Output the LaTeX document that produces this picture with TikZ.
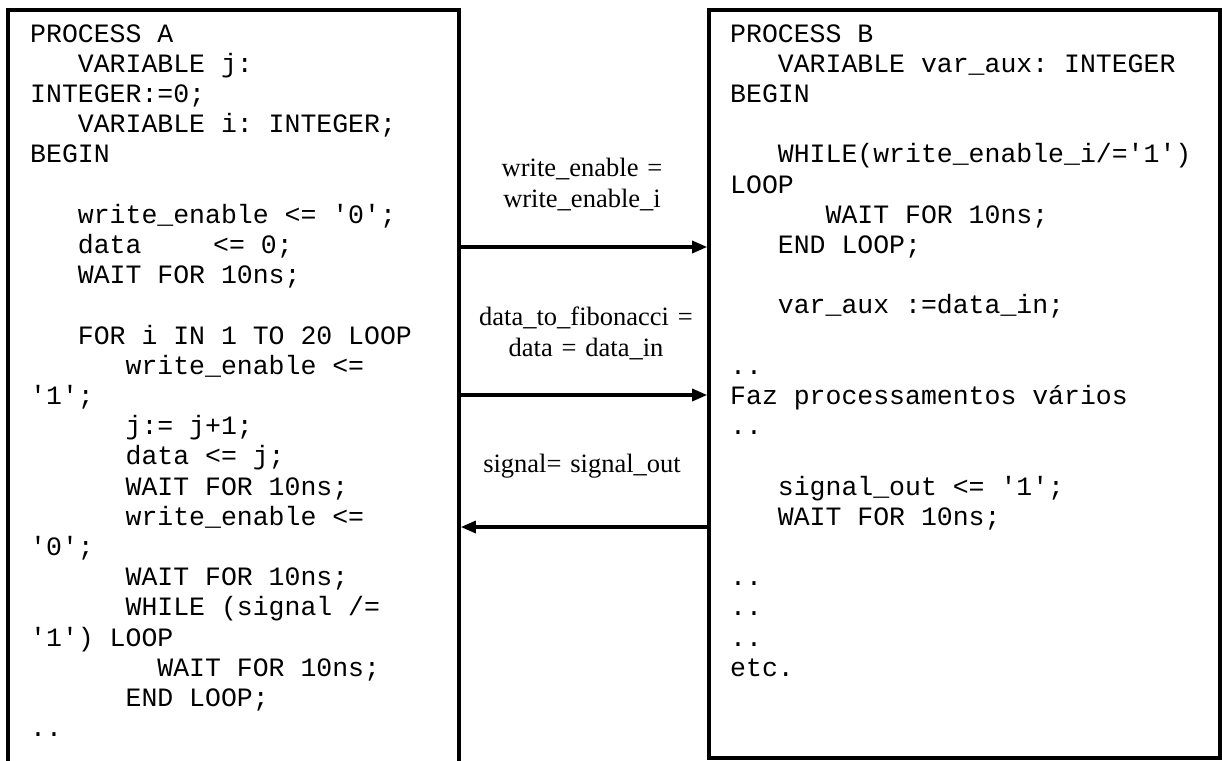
\documentclass[tikz,border=0pt]{standalone}
\usepackage{fontspec}
\setmainfont{Liberation Serif}
\setmonofont{Liberation Mono}
\usetikzlibrary{arrows.meta}

\tikzset{
  procbox/.style={draw, line width=3.6pt, inner sep=0pt, outer sep=0pt, anchor=north west},
  codeline/.style={font=\ttfamily\fontsize{26.5pt}{30.2pt}\selectfont, anchor=base west, inner sep=0pt},
  siglabel/.style={font=\fontsize{26.5pt}{31pt}\selectfont, text width=260pt, align=center, anchor=base, inner sep=0pt},
  link/.style={line width=3.2pt, -{Triangle[length=15pt,width=12pt]}, shorten >=1.8pt}
}

\begin{document}
\begin{tikzpicture}[x=1pt, y=-1pt]
\useasboundingbox (0,0) rectangle (1222,760);

% the two processes
\node[procbox, minimum width=451.3pt, minimum height=790pt] (procA) at (7.7,10) {};
\node[procbox, minimum width=511pt, minimum height=748pt] (procB) at (709,10) {};

% process A
\node[codeline] (a1) at (30,42) {PROCESS A};
\node[codeline] (a2) at (77.7,72.2) {VARIABLE j:};
\node[codeline] (a3) at (30,102.4) {INTEGER:=0;};
\node[codeline] (a4) at (77.7,132.6) {VARIABLE i: INTEGER;};
\node[codeline] (a5) at (30,162.8) {BEGIN};
\node[codeline] (a7) at (77.7,223.2) {write\_enable <= '0';};
\node[codeline] (a8) at (77.7,253.4) {data\hspace{71.7pt}<= 0;};
\node[codeline] (a9) at (77.7,283.6) {WAIT FOR 10ns;};
\node[codeline] (a11) at (77.7,344) {FOR i IN 1 TO 20 LOOP};
\node[codeline] (a12) at (125.4,374.2) {write\_enable <=};
\node[codeline] (a13) at (30,404.4) {'1';};
\node[codeline] (a14) at (125.4,434.6) {j:= j+1;};
\node[codeline] (a15) at (125.4,464.8) {data <= j;};
\node[codeline] (a16) at (125.4,495) {WAIT FOR 10ns;};
\node[codeline] (a17) at (125.4,525.2) {write\_enable <=};
\node[codeline] (a18) at (30,555.4) {'0';};
\node[codeline] (a19) at (125.4,585.6) {WAIT FOR 10ns;};
\node[codeline] (a20) at (125.4,615.8) {WHILE (signal /=};
\node[codeline] (a21) at (30,646) {'1') LOOP};
\node[codeline] (a22) at (157.2,676.2) {WAIT FOR 10ns;};
\node[codeline] (a23) at (125.4,706.4) {END LOOP;};
\node[codeline] (a24) at (30,736.6) {..};

% process B
\node[codeline] (b1) at (730,42) {PROCESS B};
\node[codeline] (b2) at (777.7,72.2) {VARIABLE var\_aux: INTEGER};
\node[codeline] (b3) at (730,102.4) {BEGIN};
\node[codeline] (b5) at (777.7,162.8) {WHILE(write\_enable\_i/='1')};
\node[codeline] (b6) at (730,193) {LOOP};
\node[codeline] (b7) at (825.4,223.2) {WAIT FOR 10ns;};
\node[codeline] (b8) at (777.7,253.4) {END LOOP;};
\node[codeline] (b10) at (777.7,313.8) {var\_aux :=data\_in;};
\node[codeline] (b12) at (730,374.2) {..};
\node[codeline] (b13) at (730,404.4) {Faz processamentos vários};
\node[codeline] (b14) at (730,434.6) {..};
\node[codeline] (b16) at (777.7,495) {signal\_out <= '1';};
\node[codeline] (b17) at (777.7,525.2) {WAIT FOR 10ns;};
\node[codeline] (b19) at (730,585.6) {..};
\node[codeline] (b20) at (730,615.8) {..};
\node[codeline] (b21) at (730,646) {..};
\node[codeline] (b22) at (730,676.2) {etc.};

% signals between them
\coordinate (weRow) at (0,247);
\coordinate (dataRow) at (0,395);
\coordinate (sigRow) at (0,527);
\draw[link] (procA.east |- weRow) -- (procB.west |- weRow);
\draw[link] (procA.east |- dataRow) -- (procB.west |- dataRow);
\draw[link] (procB.west |- sigRow) -- (procA.east |- sigRow);

\node[siglabel] (weLabel) at (582,176) {write\_enable =\\write\_enable\_i};
\node[siglabel] (dataLabel) at (586,325) {data\_to\_fibonacci =\\data = data\_in};
\node[siglabel] (sigLabel) at (582,472) {signal= signal\_out};

\end{tikzpicture}
\end{document}
